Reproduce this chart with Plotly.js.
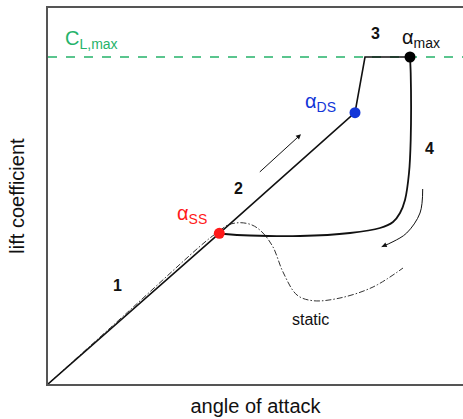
<!DOCTYPE html>
<html>
<head>
<meta charset="utf-8">
<script src="https://cdn.plot.ly/plotly-3.0.1.min.js"></script>
<style>
  html, body { margin: 0; padding: 0; background: #fff; }
  #vis { width: 463px; height: 419px; }
</style>
</head>
<body>
<div id="vis"></div>
<script>
// schematic dynamic-stall loop, arbitrary units (angle of attack vs lift coefficient)
const clMax = 32.7;

// attached flow up to static stall, then dynamic stall vortex, then CL,max
const mainX = [0, 17.13, 30.7, 31.7, 36.2];
const mainY = [0, 15.07, 27.13, 32.7, 32.7];

// lift breakdown and return (4)
const returnX = [36.2, 36.27, 36.27, 36.1, 35.7, 35.2, 34.5, 33.2, 30.2, 25.2, 20.2, 17.7, 17.13];
const returnY = [32.7, 31.1, 24.4, 21.1, 18.4, 17.1, 16.2, 15.6, 15.1, 14.8, 14.85, 15.0, 15.07];

// static polar
const staticX = [0, 8.2, 15.7, 17.0, 18.0, 19.2, 20.4, 21.4, 22.5, 23.5, 24.9, 26.5, 29.2, 32.5, 35.5];
const staticY = [0, 7.4, 14.2, 15.2, 15.9, 16.13, 15.9, 15.2, 13.7, 11.2, 8.9, 8.33, 8.6, 9.7, 11.6];

// curved arrow shaft next to branch 4
const arrowX = [37.47, 37.2, 35.87, 34.5, 33.37];
const arrowY = [19.5, 17.1, 15.1, 14.23, 13.73];

// marked states
const stateX = [17.13, 30.7, 36.2];
const stateY = [15.07, 27.13, 32.7];
const stateColors = ['#ff1a1a', '#1236d8', '#000000'];

// text labels
const labelText = ['α<sub>SS</sub>', 'α<sub>DS</sub>', 'α<sub>max</sub>', '<b>1</b>', '<b>2</b>', '<b>3</b>', '<b>4</b>', 'static'];
const labelX = [14.4, 27.2, 37.3, 6.9, 19.0, 32.7, 38.1, 26.2];
const labelY = [17.0, 28.2, 34.6, 9.9, 19.6, 35.1, 23.6, 6.5];
const labelColors = ['#ff1a1a', '#1236d8', '#111', '#111', '#111', '#111', '#111', '#111'];
const labelSizes = [20, 20, 20, 16, 16, 16, 16, 16];

const xMax = 41.5, yMax = 37.6;
const green = '#25b36a';
const font = 'Liberation Sans, Arial, sans-serif';

const data = [
  {
    x: [0, xMax], y: [clMax, clMax],
    mode: 'lines', line: { color: green, width: 1.4, dash: 'dash' },
    hoverinfo: 'skip'
  },
  {
    x: staticX, y: staticY,
    mode: 'lines', line: { color: '#333', width: 1, dash: '6px,2px,1.5px,2px', shape: 'spline' },
    hoverinfo: 'skip'
  },
  {
    x: mainX, y: mainY,
    mode: 'lines', line: { color: '#111', width: 1.6 },
    hoverinfo: 'skip'
  },
  {
    x: returnX, y: returnY,
    mode: 'lines', line: { color: '#111', width: 1.8, shape: 'spline', smoothing: 0.8 },
    hoverinfo: 'skip'
  },
  {
    x: arrowX, y: arrowY,
    mode: 'lines', line: { color: '#111', width: 1, shape: 'spline' },
    hoverinfo: 'skip'
  },
  {
    x: stateX, y: stateY,
    mode: 'markers', marker: { color: stateColors, size: 11 },
    hoverinfo: 'skip'
  }
];

const annotations = labelText.map((t, i) => ({
  x: labelX[i], y: labelY[i], xref: 'x', yref: 'y',
  text: t, showarrow: false,
  font: { family: font, size: labelSizes[i], color: labelColors[i] }
}));

annotations.push({
  x: 1.5, y: clMax + 0.3, xref: 'x', yref: 'y',
  xanchor: 'left', yanchor: 'bottom',
  text: 'C<sub>L,max</sub>', showarrow: false,
  font: { family: font, size: 20, color: green }
});

// straight arrow along branch 2
annotations.push({
  x: 25.3, y: 24.97, ax: 21.03, ay: 21.07,
  xref: 'x', yref: 'y', axref: 'x', ayref: 'y',
  text: '', showarrow: true, arrowhead: 2, arrowsize: 1, arrowwidth: 1, arrowcolor: '#111'
});

// head of the curved arrow
annotations.push({
  x: 33.37, y: 13.73, ax: 33.9, ay: 13.95,
  xref: 'x', yref: 'y', axref: 'x', ayref: 'y',
  text: '', showarrow: true, arrowhead: 2, arrowsize: 1, arrowwidth: 1, arrowcolor: '#111'
});

const layout = {
  width: 463, height: 419,
  margin: { l: 48, r: 0, t: 8, b: 35 },
  paper_bgcolor: '#fff', plot_bgcolor: '#fff',
  showlegend: false,
  font: { family: font, color: '#111' },
  xaxis: {
    range: [0, xMax], showgrid: false, zeroline: false,
    showticklabels: false, ticks: '',
    showline: true, mirror: true, linecolor: '#555', linewidth: 2,
    title: { text: 'angle of attack', font: { size: 20, color: '#111' }, standoff: 14 }
  },
  yaxis: {
    range: [0, yMax], showgrid: false, zeroline: false,
    showticklabels: false, ticks: '',
    showline: true, linecolor: '#555', linewidth: 2,
    title: { text: 'lift coefficient', font: { size: 20, color: '#111' }, standoff: 16 }
  },
  annotations: annotations
};

Plotly.newPlot('vis', data, layout, { staticPlot: true, displayModeBar: false });
</script>
</body>
</html>
